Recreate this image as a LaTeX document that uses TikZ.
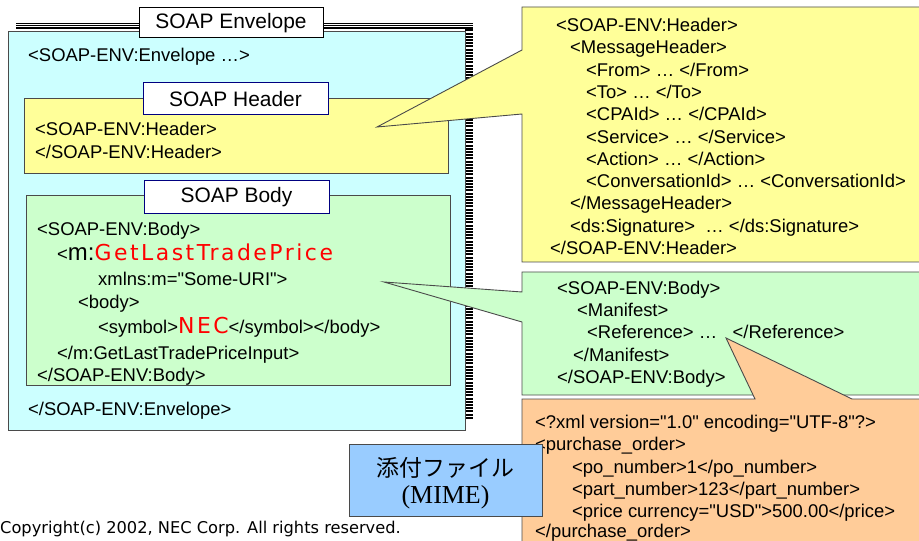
\documentclass[tikz,border=0pt]{standalone}
\usepackage{fontspec}
\setmainfont[Ligatures=TeXOff]{Liberation Sans}
\newfontfamily\mimeserif{Liberation Serif}
\newfontfamily\cjk{Noto Sans CJK JP}
\newfontfamily\redfont[LetterSpace=11.5]{DejaVu Sans}
\newfontfamily\copyfont{DejaVu Sans}
\definecolor{envcyan}{HTML}{CCFFFF}
\definecolor{hdryellow}{HTML}{FFFF99}
\definecolor{bodygreen}{HTML}{CCFFCC}
\definecolor{attorange}{HTML}{FFCC99}
\definecolor{mimeblue}{HTML}{99CCFF}
\definecolor{lblnavy}{HTML}{000080}
\definecolor{edgegray}{HTML}{4A4A4A}
\definecolor{redtxt}{HTML}{FF0000}
\tikzset{
  txt/.style={anchor=base west, inner sep=0pt, font=\fontsize{18.5}{22}\selectfont},
  lbl/.style={draw=lblnavy, line width=1pt, fill=white, inner sep=0pt, minimum width=185bp, minimum height=32bp, font=\fontsize{21}{24}\selectfont},
  panel/.style={draw=edgegray, line width=0.9pt},
  callout/.style={draw=edgegray, line width=0.9pt, line join=miter},
}
\begin{document}
\begin{tikzpicture}[x=1bp,y=-1bp]
\useasboundingbox (0,0) rectangle (919,541);
\clip (0,0) rectangle (919,541);
% envelope shadow frame
\foreach \yy in {23.8,25.9,28.0}
  \draw[line width=1.2bp] (16,\yy) -- (473,\yy);
\foreach \yy in {30.5,33.7,...,420}
  \draw[line width=2bp] (465,\yy) -- (473,\yy);
% envelope
\draw[panel, fill=envcyan] (8,31) rectangle (465,430);
\node[draw=black, line width=1pt, fill=white, inner sep=0pt, minimum width=184bp, minimum height=30bp, font=\fontsize{21}{24}\selectfont] (envlbl) at (231,23) {SOAP Envelope};
\node[txt] (env1) at (28,61.6) {<SOAP-ENV:Envelope …>};
% header
\draw[panel, fill=hdryellow] (24,98) rectangle (448,173);
\node[lbl] (hdrlbl) at (235.5,99) {SOAP Header};
\node[txt] (hd1) at (35,135.6) {<SOAP-ENV:Header>};
\node[txt] (hd2) at (35,158.6) {</SOAP-ENV:Header>};
% body
\draw[panel, fill=bodygreen] (26,195) rectangle (450,385);
\node[lbl] (bodylbl) at (236.5,197) {SOAP Body};
\node[txt] (bd1) at (37,235.6) {<SOAP-ENV:Body>};
\node[txt] (bd2) at (57,261) {<{\fontsize{24}{28}\selectfont m:}{\redfont\fontsize{22}{26}\selectfont\color{redtxt}GetLastTradePrice}};
\node[txt] (bd3) at (98,285.6) {xmlns:m="Some-URI">};
\node[txt] (bd4) at (78,308.6) {<body>};
\node[txt] (bd5) at (98,334) {<symbol>{\redfont\fontsize{22}{26}\selectfont\color{redtxt}NEC}</symbol></body>};
\node[txt] (bd6) at (57,359.6) {</m:GetLastTradePriceInput>};
\node[txt] (bd7) at (37,381.6) {</SOAP-ENV:Body>};
\node[txt] (env2) at (28,415.6) {</SOAP-ENV:Envelope>};
% header callout
\draw[callout, fill=hdryellow] (522,7) -- (919.5,7) -- (919.5,262) -- (522,262) -- (522,114) -- (377,127) -- (522,50) -- cycle;
\node[txt] (ch1) at (556,31.6) {<SOAP-ENV:Header>};
\node[txt] (ch2) at (570,53.9) {<MessageHeader>};
\node[txt] (ch3) at (586,76.2) {<From> … </From>};
\node[txt] (ch4) at (586,98.5) {<To> … </To>};
\node[txt] (ch5) at (586,120.8) {<CPAId> … </CPAId>};
\node[txt] (ch6) at (586,143.1) {<Service> … </Service>};
\node[txt] (ch7) at (586,165.4) {<Action> … </Action>};
\node[txt] (ch8) at (586,187.7) {<ConversationId> … <ConversationId>};
\node[txt] (ch9) at (570,210.0) {</MessageHeader>};
\node[txt] (ch10) at (570,232.3) {<ds:Signature>\ \ … </ds:Signature>};
\node[txt] (ch11) at (550,254.6) {</SOAP-ENV:Header>};
% body callout
\draw[callout, fill=bodygreen] (522,272) -- (919.5,272) -- (919.5,395) -- (522,395) -- (522,322) -- (384,282) -- (522,292) -- cycle;
\node[txt] (cb1) at (557,294.6) {<SOAP-ENV:Body>};
\node[txt] (cb2) at (577,316.6) {<Manifest>};
\node[txt] (cb3) at (587,338.6) {<Reference> …\ \ \ </Reference>};
\node[txt] (cb4) at (573,361.6) {</Manifest>};
\node[txt] (cb5) at (557,383.6) {</SOAP-ENV:Body>};
% attachment callout
\draw[callout, fill=attorange] (522,399) -- (755,399) -- (726,338) -- (852,399) -- (919.5,399) -- (919.5,545) -- (522,545) -- cycle;
\node[txt] (at1) at (535,428.6) {<?xml version="1.0" encoding="UTF-8"?>};
\node[txt] (at2) at (535,450.6) {<purchase\_order>};
\node[txt] (at3) at (572,473.6) {<po\_number>1</po\_number>};
\node[txt] (at4) at (572,495.6) {<part\_number>123</part\_number>};
\node[txt] (at5) at (572,517.6) {<price currency="USD">500.00</price>};
\node[txt] (at6) at (535,537.5) {</purchase\_order>};
% MIME box
\draw[draw=edgegray, line width=1pt, fill=mimeblue] (349,444) rectangle (542,516);
\node[inner sep=0pt, font={\cjk\fontsize{23}{26}\selectfont}] (mime1) at (445.5,468) {添付ファイル};
\node[inner sep=0pt, font={\mimeserif\fontsize{26}{28}\selectfont}] (mime2) at (445.5,497) {(MIME)};
% copyright
\node[anchor=base west, inner sep=0pt, font={\copyfont\fontsize{16.3}{18}\selectfont}] (copy) at (0,533) {Copyright(c) 2002, NEC Corp. All rights reserved.};
\end{tikzpicture}
\end{document}
